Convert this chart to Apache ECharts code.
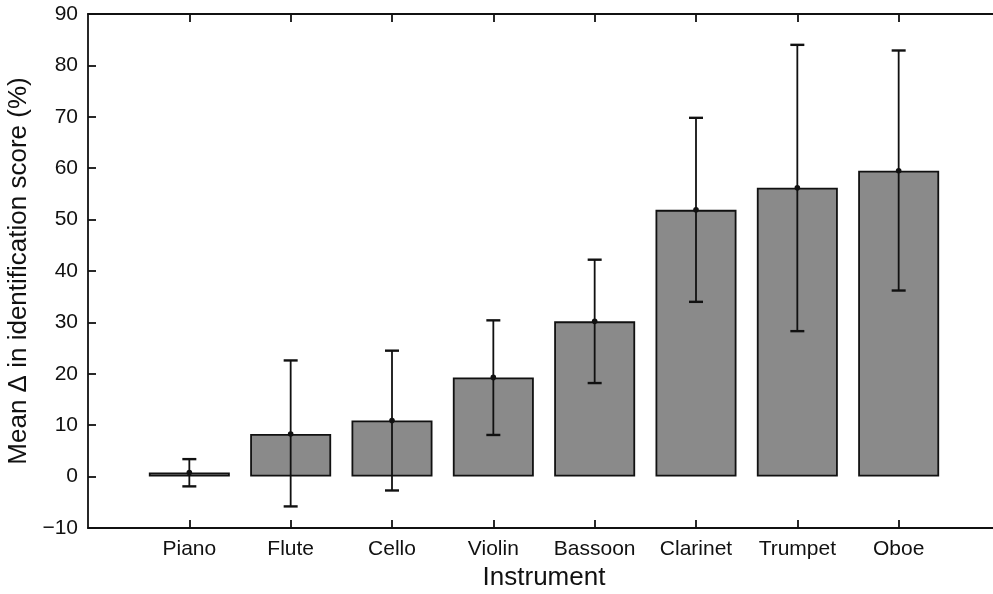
<!DOCTYPE html>
<html>
<head>
<meta charset="utf-8">
<script src="https://cdn.jsdelivr.net/npm/echarts@6/dist/echarts.min.js"></script>
<style>
html,body{margin:0;padding:0;background:#fff;overflow:hidden;}
#chart{width:1010px;height:594px;}
</style>
</head>
<body>
<div id="chart"></div>
<script>
const categories = ['Piano','Flute','Cello','Violin','Bassoon','Clarinet','Trumpet','Oboe'];
const means = [0.8, 8.3, 10.9, 19.3, 30.2, 51.9, 56.2, 59.5];
const errLow = [-1.9, -5.8, -2.7, 8.1, 18.2, 34.0, 28.3, 36.2];
const errHigh = [3.4, 22.6, 24.5, 30.4, 42.2, 69.8, 84.0, 82.9];
const yTicks = [-10, 0, 10, 20, 30, 40, 50, 60, 70, 80, 90];

const axisCats = [''].concat(categories, ['']);
const barData = [null].concat(means, [null]);
const errData = categories.map((c, i) => [i + 1, errLow[i], errHigh[i], means[i]]);

const FONT = '"Liberation Sans", Arial, Helvetica, sans-serif';
const INK = '#111111';

const chart = echarts.init(document.getElementById('chart'), null, {renderer: 'canvas'});
chart.setOption({
  animation: false,
  backgroundColor: '#ffffff',
  grid: {left: 88, top: 14, width: 912, bottom: 66, containLabel: false, outerBoundsMode: 'none'},
  xAxis: [{
    type: 'category',
    data: axisCats,
    boundaryGap: false,
    position: 'bottom',
    name: 'Instrument',
    nameLocation: 'middle',
    nameGap: 37,
    nameTextStyle: {fontFamily: FONT, fontSize: 26, color: INK},
    axisLine: {show: true, onZero: false, lineStyle: {color: INK, width: 1.8}},
    axisTick: {show: true, inside: true, length: 8, alignWithLabel: true,
      interval: (i) => i > 0 && i < axisCats.length - 1,
      lineStyle: {color: INK, width: 1.8}},
    axisLabel: {fontFamily: FONT, fontSize: 21, color: INK, margin: 11, interval: 0},
    splitLine: {show: false}
  }, {
    type: 'category',
    data: axisCats,
    boundaryGap: false,
    position: 'top',
    axisLine: {show: true, onZero: false, lineStyle: {color: INK, width: 1.8}},
    axisTick: {show: true, inside: true, length: 8,
      interval: (i) => i > 0 && i < axisCats.length - 1,
      lineStyle: {color: INK, width: 1.8}},
    axisLabel: {show: false},
    splitLine: {show: false}
  }],
  yAxis: [{
    type: 'value',
    min: yTicks[0],
    max: yTicks[yTicks.length - 1],
    interval: 10,
    position: 'left',
    name: 'Mean \u0394 in identification score (%)',
    nameLocation: 'middle',
    nameGap: 51,
    nameTextStyle: {fontFamily: FONT, fontSize: 26, color: INK},
    axisLine: {show: true, onZero: false, lineStyle: {color: INK, width: 1.8}},
    axisTick: {show: true, inside: true, length: 8, lineStyle: {color: INK, width: 1.8}},
    axisLabel: {fontFamily: FONT, fontSize: 21, color: INK, margin: 10,
      formatter: (v) => (v < 0 ? '\u2212' + Math.abs(v) : String(v))},
    splitLine: {show: false}
  }, {
    type: 'value',
    min: yTicks[0],
    max: yTicks[yTicks.length - 1],
    interval: 10,
    position: 'right',
    axisLine: {show: true, onZero: false, lineStyle: {color: INK, width: 1.8}},
    axisTick: {show: true, inside: true, length: 6, lineStyle: {color: '#666', width: 1}},
    axisLabel: {show: false},
    splitLine: {show: false}
  }],
  series: [{
    type: 'bar',
    data: barData,
    barWidth: 81,
    itemStyle: {color: '#8a8a8a', borderColor: '#111111', borderWidth: 1.8},
    z: 2
  }, {
    type: 'custom',
    data: errData,
    z: 5,
    renderItem: function (params, api) {
      const x = api.value(0);
      const pLo = api.coord([x, api.value(1)]);
      const pHi = api.coord([x, api.value(2)]);
      const pM = api.coord([x, api.value(3)]);
      const hw = 7;
      const st = {stroke: INK, lineWidth: 1.8};
      return {
        type: 'group',
        children: [
          {type: 'line', shape: {x1: pLo[0], y1: pLo[1], x2: pHi[0], y2: pHi[1]}, style: st},
          {type: 'line', shape: {x1: pLo[0] - hw, y1: pLo[1], x2: pLo[0] + hw, y2: pLo[1]}, style: {stroke: INK, lineWidth: 2.4}},
          {type: 'line', shape: {x1: pHi[0] - hw, y1: pHi[1], x2: pHi[0] + hw, y2: pHi[1]}, style: {stroke: INK, lineWidth: 2.4}},
          {type: 'circle', shape: {cx: pM[0], cy: pM[1], r: 2.8}, style: {fill: INK}}
        ]
      };
    }
  }]
});
</script>
</body>
</html>
